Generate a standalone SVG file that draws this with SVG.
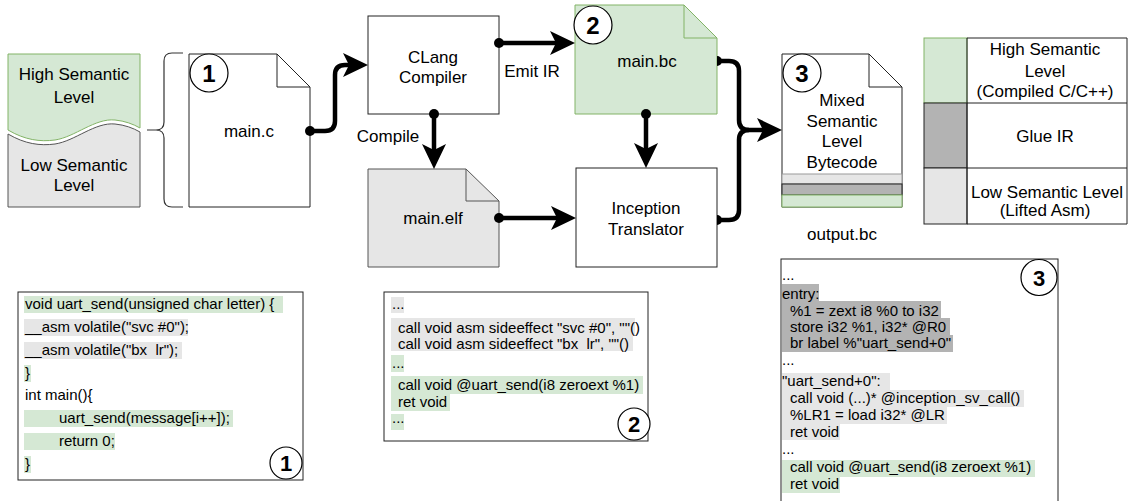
<svg xmlns="http://www.w3.org/2000/svg" width="1128" height="501" viewBox="0 0 1128 501">
<style>
text{font-family:"Liberation Sans",Arial,Helvetica,sans-serif;fill:#000}
.lbl{font-size:17px;text-anchor:middle}
.code{font-size:15px;white-space:pre}
.num{font-size:24px;font-weight:bold;text-anchor:middle}
.num2{font-size:22px;font-weight:bold;text-anchor:middle}
.node{fill:#fff;stroke:#222;stroke-width:1}
.green{fill:#d5e8d4;stroke:#82b366;stroke-width:1}
.gray{fill:#e6e6e6;stroke:#555;stroke-width:1}
.fold{fill:none;stroke:#222;stroke-width:1}
.conn{fill:none;stroke:#000;stroke-width:4.5;stroke-linejoin:round}
.hg{fill:#d5e8d4}
.hl{fill:#e6e6e6}
.hd{fill:#b3b3b3}
.circ{fill:#fff;stroke:#000;stroke-width:1.2}
</style>
<defs>
<marker id="arr" markerUnits="userSpaceOnUse" markerWidth="26" markerHeight="24" refX="17" refY="12" orient="auto" overflow="visible">
<path d="M0,0 L25,12 L0,24 L6,12 Z" fill="#000"/>
</marker>
</defs>
<rect width="1128" height="501" fill="#fff"/>

<g id="legend-left">
<path d="M8,54 H140 V128 C133,124 125,121 115,120 C95,118 75,137 55,140 C40,142 25,140 8,130 Z" fill="#d5e8d4" stroke="#82b366"/>
<path d="M8,134 C25,144 40,146 55,144 C75,141 95,122 115,124 C125,125 133,128 140,132 V207 H8 Z" fill="#e6e6e6" stroke="#555"/>
<text class="lbl" x="74" y="80">High Semantic</text>
<text class="lbl" x="74" y="103">Level</text>
<text class="lbl" x="74" y="171">Low Semantic</text>
<text class="lbl" x="74" y="191">Level</text>
</g>

<g id="brace">
<path d="M183,53 H172 Q164,53 164,61 V122 Q164,130 156,130 H147 M156,130 Q164,130 164,138 V199 Q164,207 172,207 H183" fill="none" stroke="#333" stroke-width="1.2"/>
</g>

<g id="main-c">
<path class="node" d="M189,54 H277 L310,87 V207 H189 Z"/>
<path class="fold" d="M277,54 V87 H310"/>
<circle class="circ" cx="209" cy="73" r="19"/>
<text class="num" x="209" y="82">1</text>
<text class="lbl" x="249" y="137">main.c</text>
</g>

<g id="clang">
<rect class="node" x="368" y="16" width="131" height="98"/>
<text class="lbl" x="433" y="63">CLang</text>
<text class="lbl" x="433" y="83">Compiler</text>
</g>

<g id="main-bc">
<path class="green" d="M575,5 H684 L717,38 V114 H575 Z"/>
<path d="M684,5 V38 H717" fill="none" stroke="#82b366"/>
<circle class="circ" cx="593" cy="25" r="19"/>
<text class="num" x="593" y="34">2</text>
<text class="lbl" x="647" y="67">main.bc</text>
</g>

<g id="main-elf">
<path class="gray" d="M368,169 H466 L499,201 V267 H368 Z"/>
<path d="M466,169 V201 H499" fill="none" stroke="#555"/>
<text class="lbl" x="433" y="224">main.elf</text>
</g>

<g id="inception">
<rect class="node" x="576" y="168" width="141" height="99"/>
<text class="lbl" x="646" y="214">Inception</text>
<text class="lbl" x="646" y="235">Translator</text>
</g>

<g id="output-bc">
<path class="node" d="M782,54 H869 L902,87 V207 H782 Z"/>
<path class="fold" d="M869,54 V87 H902"/>
<rect x="782" y="174" width="120" height="10" fill="#e6e6e6" stroke="#999"/>
<rect x="782" y="184" width="120" height="11" fill="#b3b3b3" stroke="#222"/>
<rect x="782" y="195" width="120" height="12" fill="#d5e8d4" stroke="#82b366"/>
<circle class="circ" cx="802" cy="73" r="19"/>
<text class="num" x="802" y="82">3</text>
<text class="lbl" x="842" y="106">Mixed</text>
<text class="lbl" x="842" y="126.5">Semantic</text>
<text class="lbl" x="842" y="147">Level</text>
<text class="lbl" x="842" y="167.5">Bytecode</text>
<text class="lbl" x="842" y="240">output.bc</text>
</g>

<g id="legend-right">
<rect x="924" y="38" width="43" height="65" fill="#d5e8d4" stroke="#82b366"/>
<rect x="924" y="103" width="43" height="65" fill="#b3b3b3" stroke="#222"/>
<rect x="924" y="168" width="43" height="56" fill="#e6e6e6" stroke="#222"/>
<path d="M967,38 H1127 V224 H967 Z M967,103 H1127 M967,168 H1127" fill="none" stroke="#222"/>
<text class="lbl" x="1045" y="55">High Semantic</text>
<text class="lbl" x="1045" y="76.5">Level</text>
<text class="lbl" x="1045" y="97">(Compiled C/C++)</text>
<text class="lbl" x="1045" y="142">Glue IR</text>
<text class="lbl" x="1047" y="198">Low Semantic Level</text>
<text class="lbl" x="1045" y="216">(Lifted Asm)</text>
</g>

<g id="connectors">
<path class="conn" d="M310,131 H325 Q335,131 335,121 V75 Q335,65 345,65 H360" marker-end="url(#arr)"/>
<circle cx="310" cy="131" r="5"/>
<path class="conn" d="M499,43 H567" marker-end="url(#arr)"/>
<circle cx="499" cy="43" r="5"/>
<path class="conn" d="M434,114 V161" marker-end="url(#arr)"/>
<circle cx="434" cy="114" r="5"/>
<path class="conn" d="M499,218 H568" marker-end="url(#arr)"/>
<circle cx="499" cy="218" r="5"/>
<path class="conn" d="M646,114 V160" marker-end="url(#arr)"/>
<circle cx="646" cy="114" r="5"/>
<path class="conn" d="M717,61 H729 Q739,61 739,71 V120 Q739,130 749,130 H774" marker-end="url(#arr)"/>
<path d="M717,56 A5,5 0 0 1 717,66 Z"/>
<path class="conn" d="M717,220 H729 Q739,220 739,210 V140 Q739,130 749,130"/>
<path d="M717,215 A5,5 0 0 1 717,225 Z"/>
<text class="lbl" x="532" y="77">Emit IR</text>
<text class="lbl" x="388" y="142">Compile</text>
</g>

<g id="code1">
<rect x="18" y="292" width="285" height="188" fill="#fff" stroke="#222"/>
<rect class="hg" x="24" y="296" width="259" height="17"/>
<rect class="hl" x="24" y="319" width="164" height="17"/>
<rect class="hl" x="24" y="342" width="158" height="17"/>
<rect class="hg" x="24" y="365" width="7" height="17"/>
<rect class="hg" x="24" y="410" width="209" height="17"/>
<rect class="hg" x="24" y="433" width="91" height="17"/>
<rect class="hg" x="24" y="456" width="7" height="17"/>
<text class="code" x="25" y="309">void uart_send(unsigned char letter) {</text>
<text class="code" x="25" y="332">__asm volatile("svc #0");</text>
<text class="code" x="25" y="355" xml:space="preserve">__asm volatile("bx  lr");</text>
<text class="code" x="25" y="378">}</text>
<text class="code" x="25" y="400">int main(){</text>
<text class="code" x="59" y="423">uart_send(message[i++]);</text>
<text class="code" x="59" y="446">return 0;</text>
<text class="code" x="25" y="469">}</text>
<circle class="circ" cx="286" cy="463" r="16"/>
<text class="num2" x="286" y="471">1</text>
</g>

<g id="code2">
<rect x="384" y="292" width="264" height="149" fill="#fff" stroke="#222"/>
<rect class="hl" x="391" y="297" width="13" height="16"/>
<rect class="hl" x="391" y="318" width="244" height="17"/>
<rect class="hl" x="391" y="335" width="242" height="16"/>
<rect class="hg" x="391" y="355" width="13" height="17"/>
<rect class="hg" x="391" y="376" width="252" height="18"/>
<rect class="hg" x="391" y="394" width="59" height="17"/>
<rect class="hg" x="391" y="414" width="13" height="16"/>
<text class="code" x="392" y="309">...</text>
<text class="code" x="398" y="333">call void asm sideeffect "svc #0", ""()</text>
<text class="code" x="398" y="348.5" xml:space="preserve">call void asm sideeffect "bx  lr", ""()</text>
<text class="code" x="392" y="368">...</text>
<text class="code" x="398" y="389.5">call void @uart_send(i8 zeroext %1)</text>
<text class="code" x="398" y="407">ret void</text>
<text class="code" x="392" y="423">...</text>
<circle class="circ" cx="634" cy="424" r="16"/>
<text class="num2" x="634" y="432">2</text>
</g>

<g id="code3">
<rect x="781" y="259" width="277" height="260" fill="#fff" stroke="#222"/>
<rect class="hd" x="782" y="284" width="37" height="17"/>
<rect class="hd" x="782" y="301" width="159" height="17"/>
<rect class="hd" x="782" y="318" width="168" height="17"/>
<rect class="hd" x="782" y="335" width="171" height="17"/>
<rect class="hl" x="782" y="373" width="108" height="17"/>
<rect class="hl" x="782" y="390" width="242" height="17"/>
<rect class="hl" x="782" y="407" width="165" height="17"/>
<rect class="hl" x="782" y="424" width="58" height="16"/>
<rect class="hg" x="782" y="460" width="253" height="17"/>
<rect class="hg" x="782" y="477" width="58" height="16"/>
<text class="code" x="782" y="280">...</text>
<text class="code" x="782" y="299">entry:</text>
<text class="code" x="790" y="315.5">%1 = zext i8 %0 to i32</text>
<text class="code" x="790" y="331.5">store i32 %1, i32* @R0</text>
<text class="code" x="790" y="348">br label %"uart_send+0"</text>
<text class="code" x="782" y="365">...</text>
<text class="code" x="782" y="385.5">"uart_send+0":</text>
<text class="code" x="790" y="403">call void (...)* @inception_sv_call()</text>
<text class="code" x="790" y="420">%LR1 = load i32* @LR</text>
<text class="code" x="790" y="437">ret void</text>
<text class="code" x="782" y="454">...</text>
<text class="code" x="790" y="472">call void @uart_send(i8 zeroext %1)</text>
<text class="code" x="790" y="489">ret void</text>
<circle class="circ" cx="1039" cy="277.5" r="18"/>
<text class="num2" x="1039" y="285.5">3</text>
</g>
</svg>
